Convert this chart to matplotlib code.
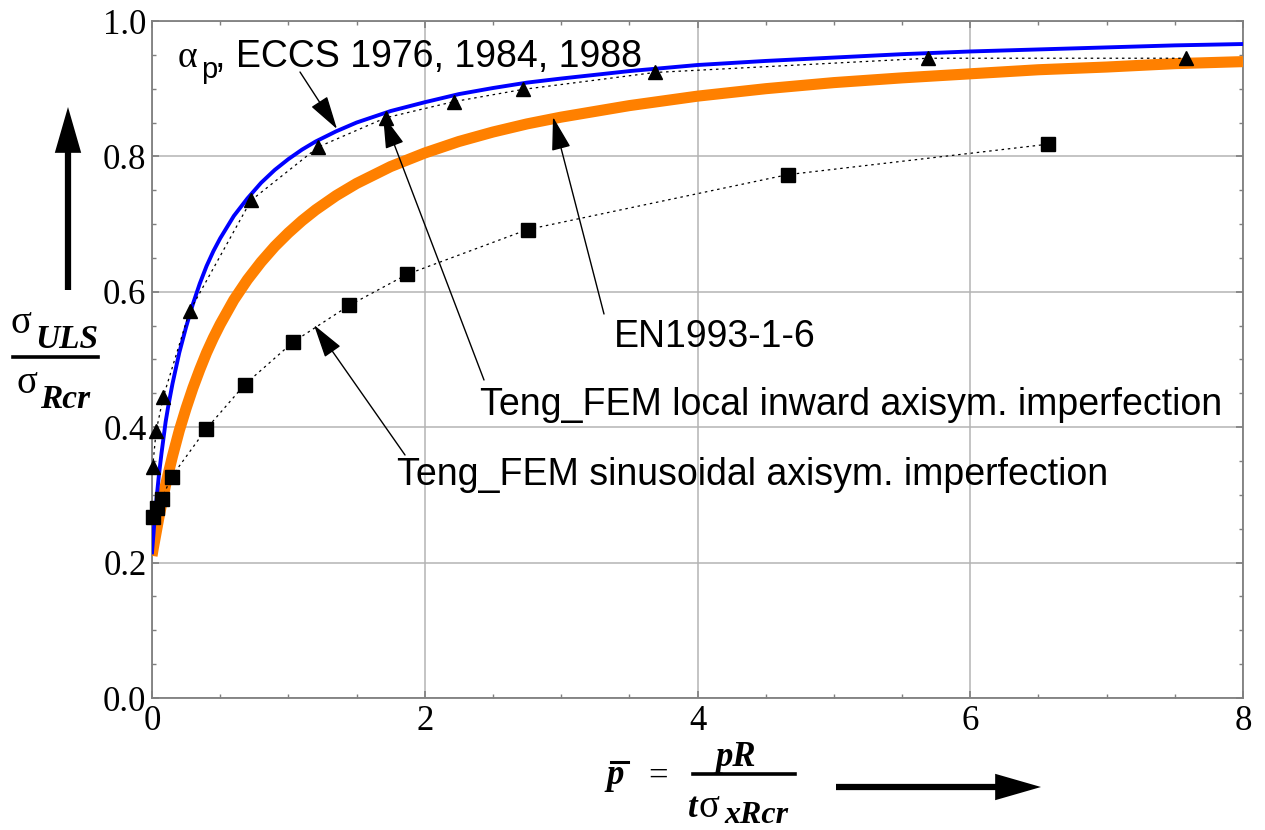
import matplotlib
matplotlib.use("Agg")
import matplotlib.pyplot as plt
from matplotlib.lines import Line2D
from matplotlib.patches import FancyArrowPatch
from matplotlib.ticker import MultipleLocator

W, H, DPI = 1265, 830, 100

# ---------------- data ----------------
eccs_x = [0, 0.01, 0.02, 0.03, 0.05, 0.07, 0.1, 0.12, 0.15, 0.2, 0.25, 0.3, 0.35, 0.4, 0.45,
          0.5, 0.6, 0.7, 0.8, 0.9, 1.0, 1.1, 1.2, 1.35, 1.5, 1.75, 2, 2.25, 2.5, 2.75, 3,
          3.5, 4, 4.5, 5, 5.5, 6, 6.5, 7, 7.5, 8]
eccs_y = [0.215, 0.240, 0.266, 0.288, 0.328, 0.362, 0.408, 0.432, 0.464, 0.510, 0.548, 0.582,
          0.612, 0.638, 0.660, 0.679, 0.712, 0.738, 0.761, 0.780, 0.796, 0.810, 0.822, 0.837,
          0.850, 0.867, 0.880, 0.892, 0.901, 0.909, 0.915, 0.926, 0.935, 0.941, 0.946, 0.951,
          0.955, 0.958, 0.961, 0.964, 0.966]

en_x = [0, 0.01, 0.02, 0.05, 0.07, 0.1, 0.12, 0.15, 0.2, 0.25, 0.3, 0.35, 0.4, 0.45, 0.5,
        0.6, 0.7, 0.8, 0.9, 1.0, 1.1, 1.2, 1.35, 1.5, 1.75, 2, 2.25, 2.5, 2.75, 3, 3.5, 4,
        4.5, 5, 5.5, 6, 6.5, 7, 7.5, 8]
en_y = [0.210, 0.222, 0.233, 0.266, 0.286, 0.315, 0.332, 0.357, 0.395, 0.428, 0.458, 0.485,
        0.510, 0.532, 0.552, 0.588, 0.618, 0.644, 0.667, 0.687, 0.705, 0.721, 0.742, 0.760,
        0.785, 0.805, 0.822, 0.836, 0.848, 0.858, 0.875, 0.889, 0.900, 0.909, 0.916, 0.922,
        0.928, 0.932, 0.937, 0.940]

local_x = [0.005, 0.03, 0.083, 0.275, 0.726, 1.22, 1.713, 2.216, 2.722, 3.69, 5.69, 7.58]
local_y = [0.341, 0.394, 0.445, 0.571, 0.735, 0.814, 0.857, 0.881, 0.899, 0.924, 0.945, 0.945]

sin_x = [0.005, 0.034, 0.071, 0.144, 0.396, 0.68, 1.036, 1.447, 1.873, 2.754, 4.66, 6.57]
sin_y = [0.268, 0.281, 0.294, 0.327, 0.397, 0.463, 0.526, 0.580, 0.626, 0.692, 0.773, 0.818]

x_ticks = [0, 2, 4, 6, 8]
x_tick_labels = ["0", "2", "4", "6", "8"]
y_ticks = [0.0, 0.2, 0.4, 0.6, 0.8, 1.0]
y_tick_labels = ["0.0", "0.2", "0.4", "0.6", "0.8", "1.0"]

label_eccs = ", ECCS 1976, 1984, 1988"
label_en = "EN1993-1-6"
label_local = "Teng_FEM local inward axisym. imperfection"
label_sin = "Teng_FEM sinusoidal axisym. imperfection"

# ---------------- figure ----------------
def fx(px):
    return px / W

def fy(py):
    return 1 - py / H

fig = plt.figure(figsize=(W / DPI, H / DPI), dpi=DPI)
ax = fig.add_axes([fx(152), fy(698), (1243 - 152) / W, (698 - 21) / H])

ax.set_xlim(0, 8)
ax.set_ylim(0, 1)
ax.set_xticks(x_ticks)
ax.set_xticklabels(x_tick_labels)
ax.set_yticks(y_ticks)
ax.set_yticklabels(y_tick_labels)
ax.xaxis.set_minor_locator(MultipleLocator(0.5))
ax.yaxis.set_minor_locator(MultipleLocator(0.05))

spine_col = "#7f7f7f"
for s in ax.spines.values():
    s.set_color(spine_col)
    s.set_linewidth(1.3)
ax.tick_params(which="both", direction="in", top=True, right=True, color=spine_col)
ax.tick_params(which="major", length=5, width=1.2)
ax.tick_params(which="minor", length=3.2, width=1.0)
ax.tick_params(axis="x", which="major", pad=5)
ax.tick_params(axis="y", which="major", pad=4)
for lab in ax.get_xticklabels() + ax.get_yticklabels():
    lab.set_fontfamily("Liberation Serif")
    lab.set_fontsize(25)

ax.grid(True, which="major", color="#b4b4b4", linewidth=1.1)
ax.set_axisbelow(True)

# curves
ax.plot(en_x, en_y, color="#ff8000", linewidth=8, solid_capstyle="butt",
        solid_joinstyle="round", zorder=3)
ax.plot(eccs_x, eccs_y, color="#0000ff", linewidth=2.8, solid_joinstyle="round", zorder=4)

# FEM data
ax.plot(local_x, local_y, color="black", linewidth=0.9, linestyle=(0, (2, 3)), zorder=5)
ax.plot(local_x, local_y, linestyle="none", marker="^", markersize=10, color="black",
        zorder=6, clip_on=False)
ax.plot(sin_x, sin_y, color="black", linewidth=0.9, linestyle=(0, (2, 3)), zorder=5)
ax.plot(sin_x, sin_y, linestyle="none", marker="s", markersize=9.5, color="black",
        zorder=6, clip_on=False)

# annotation arrows (tip on curve, tail near label)
def px2data(px, py):
    return ((px - 152) / 136.375, (698 - py) / 677.0)

arrow_kw = dict(arrowstyle="-|>,head_length=1.05,head_width=0.3", color="black",
                lw=1.0, mutation_scale=20, shrinkA=0, shrinkB=0)
arrows = [((337, 129), (300, 72)),
          ((553, 117), (604, 314)),
          ((383, 115), (484, 380)),
          ((314, 325), (405, 455))]
for tip, tail in arrows:
    ax.annotate("", xy=px2data(*tip), xytext=px2data(*tail), arrowprops=arrow_kw, zorder=7)

sans = "Liberation Sans"
serif = "Liberation Serif"
fs_ann = 27

fig.text(fx(178), fy(67), "\u03b1", fontsize=27, family=serif, va="baseline", ha="left")
fig.text(fx(201), fy(78), "p", fontsize=21, family=sans, va="baseline", ha="left")
fig.text(fx(215), fy(67), label_eccs, fontsize=fs_ann, family=sans, va="baseline", ha="left")
fig.text(fx(614), fy(347), label_en, fontsize=fs_ann, family=sans, va="baseline", ha="left")
fig.text(fx(480), fy(415), label_local, fontsize=fs_ann, family=sans, va="baseline", ha="left")
fig.text(fx(397), fy(485), label_sin, fontsize=fs_ann, family=sans, va="baseline", ha="left")

# y-axis label as a fraction
fig.text(fx(11), fy(333), "\u03c3", fontsize=28, family=serif, va="baseline", ha="left")
fig.text(fx(35), fy(348), "ULS", fontsize=24, family=serif, weight="bold", style="italic",
         va="baseline", ha="left")
fig.add_artist(Line2D([fx(13), fx(98)], [fy(357), fy(357)], color="black", lw=2.6,
                      transform=fig.transFigure))
fig.text(fx(17), fy(393), "\u03c3", fontsize=28, family=serif, va="baseline", ha="left")
fig.text(fx(40), fy(408), "Rcr", fontsize=24, family=serif, weight="bold", style="italic",
         va="baseline", ha="left")

# x-axis label as a fraction
fig.text(fx(606), fy(784), "p", fontsize=25, family=serif, weight="bold", style="italic",
         va="baseline", ha="left")
fig.add_artist(Line2D([fx(611), fx(628)], [fy(762), fy(762)], color="black", lw=2.2,
                      transform=fig.transFigure))
fig.text(fx(648), fy(786), "=", fontsize=25, family=serif, va="baseline", ha="left")
fig.text(fx(715), fy(766), "pR", fontsize=25, family=serif, weight="bold", style="italic",
         va="baseline", ha="left")
fig.add_artist(Line2D([fx(693), fx(795)], [fy(774), fy(774)], color="black", lw=2.6,
                      transform=fig.transFigure))
fig.text(fx(688), fy(817), "t", fontsize=25, family=serif, weight="bold", style="italic",
         va="baseline", ha="left")
fig.text(fx(698), fy(817), "\u03c3", fontsize=28, family=serif, va="baseline", ha="left")
fig.text(fx(724), fy(823), "xRcr", fontsize=23, family=serif, weight="bold", style="italic",
         va="baseline", ha="left")

# big direction arrows
big = "simple,head_length=3.3,head_width=1.9,tail_width=0.45"
fig.add_artist(FancyArrowPatch((fx(68), fy(290)), (fx(68), fy(107)), transform=fig.transFigure,
                               arrowstyle=big, mutation_scale=10, color="black", lw=0,
                               shrinkA=0, shrinkB=0))
fig.add_artist(FancyArrowPatch((fx(836), fy(787)), (fx(1041), fy(787)), transform=fig.transFigure,
                               arrowstyle=big, mutation_scale=10, color="black", lw=0,
                               shrinkA=0, shrinkB=0))

fig.savefig("out.png", dpi=DPI)
